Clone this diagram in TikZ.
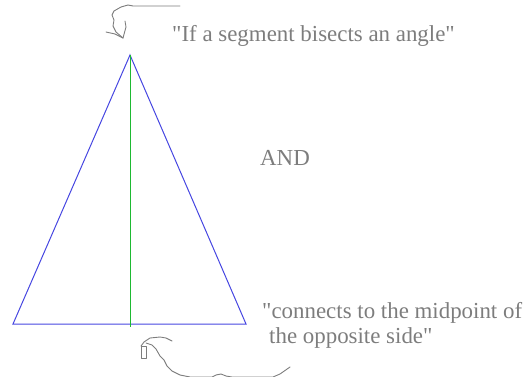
\documentclass[tikz,border=0pt]{standalone}
\usepackage{fontspec}
\setmainfont{Liberation Serif}
\definecolor{tblue}{RGB}{70,70,225}
\definecolor{tgreen}{RGB}{30,185,50}
\definecolor{tgray}{RGB}{125,125,125}
\begin{document}
\begin{tikzpicture}[x=1pt,y=-1pt,
  side/.style={draw=tblue,line width=1pt},
  bisector/.style={draw=tgreen,line width=1pt},
  hand/.style={draw=tgray,line width=0.9pt,line join=round,line cap=round},
  lbl/.style={text=tgray,font=\fontsize{22.9}{24}\selectfont,inner sep=0pt,anchor=west}]
\useasboundingbox (0,0) rectangle (530,377);
\coordinate (apex) at (130,55);
\coordinate (bl) at (13,324);
\coordinate (br) at (246,324);
\coordinate (mid) at (130,327);
\draw[side] (bl) -- (apex) -- (br) -- cycle;
\draw[bisector] (apex) -- (mid);
\node[lbl] (t1) at (172,36) {\textquotedbl If a segment bisects an angle\textquotedbl};
\node[lbl] (t2) at (260,158) {AND};
\node[lbl] (t3) at (262,313) {\textquotedbl connects to the midpoint of};
\node[lbl] (t4) at (269,338) {the opposite side\textquotedbl};
% top hand-drawn arrow
\coordinate (a0) at (180,6);
\coordinate (tip) at (123,38);
\draw[hand] (a0) -- (133,6) -- (128,5) -- (121,7) -- (114,11) -- (112,15) -- (114,20) -- (113,26) -- (116,32) -- (tip);
\draw[hand] (tip) -- (126,27) -- (125,21);
\draw[hand] (tip) -- (115,34) -- (106,32);
% bottom hand-drawn arrow
\coordinate (b0) at (290,367);
\draw[hand] (141,346) rectangle (146,358);
\draw[hand] (141,346) -- (144,342) -- (150,338) -- (160,337) -- (166,338) -- (172,341);
\draw[hand] (146,343) -- (152,345) -- (156,349) -- (160,356) -- (164,360) -- (167,366) -- (172,371) -- (180,375) -- (190,377) -- (212,377) -- (216,375) -- (221,374) -- (226,376) -- (232,377) -- (273,377) -- (280,374) -- (b0);
\end{tikzpicture}
\end{document}
